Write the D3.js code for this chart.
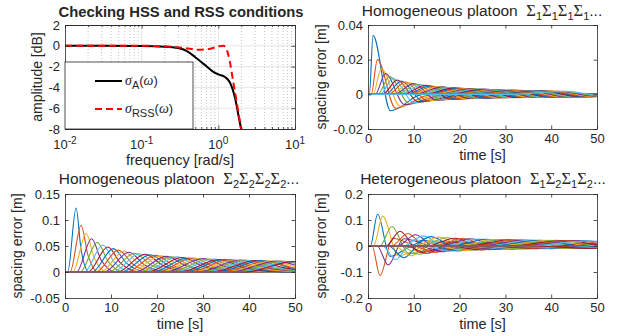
<!DOCTYPE html>
<html>
<head>
<meta charset="utf-8">
<script src="https://cdn.jsdelivr.net/npm/d3@7"></script>
<style>
  body { margin: 0; background: #fff; }
  text { font-family: "Liberation Sans", Arial, sans-serif; fill: #262626; }
</style>
</head>
<body>
<svg id="chart" width="620" height="336"></svg>
<script>
// ---- top-left: amplitude curves (frequency in rad/s, amplitude in dB)
const freqA = [0.01, 0.1, 0.2, 0.3, 0.4, 0.5, 0.67, 0.86, 1.0, 1.22, 1.41, 1.65, 1.82, 1.97, 2.2];
const ampA = [0, -0.02, -0.08, -0.22, -0.55, -1.1, -1.85, -2.5, -2.75, -3.0, -3.5, -5.0, -6.6, -7.9, -10];
const freqRSS = [0.01, 0.1, 0.2, 0.37, 0.55, 0.74, 1.0, 1.16, 1.26, 1.41, 1.56, 1.73, 1.97, 2.2];
const ampRSS = [0, 0, -0.05, -0.22, -0.38, -0.32, -0.06, 0, -0.22, -1.5, -3.4, -5.35, -7.9, -10];

// ---- top-right: homogeneous platoon S1 (key points of each vehicle's spacing error)
const h1Start = [0.3,0.7,1.1,1.6,2.1,2.6,3.2,3.8,4.4,5.0, 5.6,6.2,6.9,7.5,8.2,8.8,9.5,10.2,10.8,11.5,
  12.2,12.9,13.6,14.3,15.0,15.7,16.4,17.1,17.8,18.5, 19.2,19.9,20.6,21.3,22.0,22.7,23.4,24.1,24.8,25.5,
  26.2,26.9,27.6,28.3,29.0,29.7,30.4,31.1];
const h1PeakT = [1.1,2.05,2.9,3.8,4.7,5.5,6.4,7.3,8.2,9.1, 10.0,10.9,11.8,12.7,13.6,14.5,15.4,16.3,17.2,18.1,
  19.0,19.9,20.8,21.7,22.6,23.5,24.4,25.3,26.2,27.1, 28.0,28.9,29.8,30.7,31.6,32.5,33.4,34.3,35.2,36.1,
  37.0,37.9,38.8,39.7,40.6,41.5,42.4,43.3];
const h1PeakV = [0.034,0.020,0.0148,0.0120,0.0103,0.0092,0.0083,0.0076,0.0071,0.0066,
  0.0062,0.0058,0.0055,0.0052,0.0049,0.0047,0.0045,0.0043,0.0041,0.0039,
  0.0037,0.0036,0.0035,0.0034,0.0033,0.0032,0.0031,0.0030,0.0029,0.0028,
  0.0027,0.0026,0.0025,0.0025,0.0024,0.0023,0.0023,0.0022,0.0022,0.0021,
  0.0021,0.0020,0.0020,0.0019,0.0019,0.0018,0.0018,0.0018];
const h1TroughT = [4.9,6,7,8,9,10,11,12,13,14, 15,16,17,18,19,20,21,22,23,24,
  25,26,27,28,29,30,31,32,33,34, 35,36,37,38,39,40,41,42,43,44, 45,46,47,48,49,50,51,52];
const h1TroughV = [-0.0095,-0.0080,-0.0068,-0.0060,-0.0053,-0.0048,-0.0044,-0.0040,-0.0037,-0.0035,
  -0.0033,-0.0031,-0.0030,-0.0028,-0.0027,-0.0026,-0.0025,-0.0024,-0.0023,-0.0022,
  -0.0021,-0.0021,-0.0020,-0.0020,-0.0019,-0.0019,-0.0018,-0.0018,-0.0017,-0.0017,
  -0.0017,-0.0016,-0.0016,-0.0016,-0.0015,-0.0015,-0.0015,-0.0014,-0.0014,-0.0014,
  -0.0014,-0.0013,-0.0013,-0.0013,-0.0013,-0.0012,-0.0012,-0.0012];
const h1End = [12,14,15.5,17,18.5,20,21.5,23,24.5,26, 27.5,29,30.5,32,33.5,35,36.5,38,39.5,41,
  42.5,44,45.5,47,48.5,50,51.5,53,54.5,56, 57.5,59,60.5,62,63.5,65,66.5,68,69.5,71,
  72.5,74,75.5,77,78.5,80,81.5,83];

// ---- bottom-left: homogeneous platoon S2
const h2Start = [0.6,1.1,1.7,2.5,3.3,4.2,5.0,5.9,6.7,7.7, 8.5,9.5,10.4,11.4,12.3,13.3,14.2,15.2,16.1,17.1,
  18.0,19.0,20.0,21.0,21.9,23.0,23.9,25.0,25.9,27.0, 27.9,29.0,29.9,31.0,32.0,33.0,34.0,35.1,36.0,37.1,
  38.1,39.2];
const h2PeakT = [2.4,3.5,4.6,5.8,7.0,8.2,9.3,10.5,11.6,12.8, 13.9,15.1,16.2,17.4,18.5,19.7,20.8,22.0,23.1,24.3,
  25.4,26.6,27.7,28.9,30.0,31.2,32.3,33.5,34.6,35.8, 36.9,38.1,39.2,40.4,41.5,42.7,43.8,45.0,46.1,47.3,
  48.4,49.6];
const h2PeakV = [0.123,0.090,0.074,0.064,0.057,0.052,0.048,0.045,0.042,0.040,
  0.038,0.036,0.035,0.034,0.033,0.032,0.031,0.030,0.029,0.029,
  0.028,0.027,0.027,0.026,0.026,0.025,0.025,0.024,0.024,0.024,
  0.023,0.023,0.023,0.022,0.022,0.022,0.021,0.021,0.021,0.021, 0.020,0.020];
const h2TailT = [3.5,5.0,6.4,7.9,9.4,10.8,12.1,13.5,14.8,16.2, 17.4,18.8,20.0,21.4,22.6,23.9,25.2,26.5,27.7,29.0,
  30.2,31.6,32.8,34.1,35.3,36.6,37.8,39.1,40.3,41.6, 42.8,44.1,45.3,46.6,47.7,49.1,50.2,51.5,52.7,54.0,
  55.2,56.4];
const h2TailV = [0.043,0.032,0.026,0.022,0.020,0.018,0.017,0.016,0.015,0.014,
  0.013,0.013,0.012,0.012,0.012,0.011,0.011,0.011,0.010,0.010,
  0.010,0.009,0.009,0.009,0.009,0.009,0.009,0.008,0.008,0.008,
  0.008,0.008,0.008,0.008,0.008,0.008,0.007,0.007,0.007,0.007, 0.007,0.007];
const h2End = [5.2,7.3,9.2,11.1,12.9,14.7,16.3,18.0,19.5,21.2, 22.7,24.3,25.7,27.3,28.7,30.3,31.7,33.2,34.6,36.1,
  37.5,39.0,40.4,41.9,43.2,44.7,46.1,47.5,48.9,50.3, 51.6,53.1,54.4,55.8,57.1,58.6,59.9,61.3,62.6,64.0,
  65.3,66.7];

// ---- bottom-right: heterogeneous platoon S1 S2 S1 S2 ...
const htStart = [0.5,0.9,1.2,2.0,2.6,3.2,3.9,4.5,5.1,5.7, 6.4,7.0,7.7,8.3,9.0,9.6,10.3,10.9,11.6,12.2,
  12.9,13.5,14.2,14.8,15.5,16.1,16.8,17.4,18.1,18.7, 19.4,20.0,20.7,21.3,22.0,22.6,23.3,23.9,24.6,25.2,
  25.9,26.5,27.2,27.8,28.5,29.1,29.8,30.4,31.1,31.7, 32.4,33.0,33.7,34.3,35.0,35.6];
const htPeakT = [2.1,2.6,3.2,4.4,5.2,6.0,7.0,7.8,8.7,9.5, 10.4,11.2,12.1,12.9,13.8,14.6,15.5,16.3,17.2,18.0,
  18.9,19.7,20.6,21.4,22.3,23.1,24.0,24.8,25.7,26.5, 27.4,28.2,29.1,29.9,30.8,31.6,32.5,33.3,34.2,35.0,
  35.9,36.7,37.6,38.4,39.3,40.1,41.0,41.8,42.7,43.5, 44.4,45.2,46.1,46.9,47.8,48.6];
const htPeakV = [0.122,-0.113,0.115,-0.073,0.075,-0.052,0.057,-0.045,0.048,-0.038,
  0.043,-0.032,0.039,-0.028,0.036,-0.025,0.034,-0.022,0.032,-0.020,
  0.030,-0.019,0.029,-0.017,0.028,-0.016,0.027,-0.015,0.026,-0.014,
  0.025,-0.013,0.025,-0.012,0.024,-0.012,0.024,-0.011,0.023,-0.011,
  0.023,-0.010,0.022,-0.010,0.022,-0.010,0.022,-0.009,0.021,-0.009,
  0.021,-0.009,0.021,-0.009,0.020,-0.009];
const htSwingT = [4.8,5.4,6.6,7.8,8.9,10.0,11.2,12.2,13.3,14.2, 15.4,16.3,17.5,18.4,19.6,20.5,21.7,22.6,23.8,24.7,
  25.9,26.8,28.0,28.9,30.1,31.0,32.2,33.1,34.3,35.2, 36.4,37.3,38.5,39.4,40.6,41.5,42.7,43.6,44.8,45.7,
  46.9,47.8,49.0,49.9,51.1,52.0,53.2,54.1,55.3,56.2, 57.4,58.3,59.5,60.4,61.6,62.5];
const htSwingV = [-0.040,0.030,-0.038,0.028,-0.030,0.024,-0.024,0.021,-0.020,0.019,
  -0.017,0.017,-0.015,0.016,-0.013,0.015,-0.012,0.014,-0.011,0.013,
  -0.010,0.013,-0.010,0.012,-0.009,0.012,-0.009,0.011,-0.008,0.011,
  -0.008,0.011,-0.008,0.010,-0.007,0.010,-0.007,0.010,-0.007,0.010,
  -0.007,0.009,-0.006,0.009,-0.006,0.009,-0.006,0.009,-0.005,0.008,
  -0.005,0.008,-0.005,0.008,-0.005,0.008];
const htEnd = [10,11,13,14.5,16,17.5,19,20.5,22,23.5, 25,26.5,28,29.5,31,32.5,34,35.5,37,38.5,
  40,41.5,43,44.5,46,47.5,49,50.5,52,53.5, 55,56.5,58,59.5,61,62.5,64,65.5,67,68.5,
  70,71.5,73,74.5,76,77.5,79,80.5,82,83.5, 85,86.5,88,89.5,91,92.5];

// tick values
const freqTicks = [0.01, 0.1, 1, 10];
const ampTicks = [2, 0, -2, -4, -6, -8];
const timeTicks = [0, 10, 20, 30, 40, 50];
const h1Ticks = [0.04, 0.02, 0, -0.02];
const h2Ticks = [0.15, 0.1, 0.05, 0, -0.05];
const htTicks = [0.2, 0.1, 0, -0.1, -0.2];

const colorOrder = ['#0072BD', '#D95319', '#EDB120', '#7E2F8E', '#77AC30', '#4DBEEE', '#A2142F'];
const axisColor = '#262626';
const svg = d3.select('#chart');
svg.append('rect').attr('width', 620).attr('height', 336).attr('fill', '#fff');
const defs = svg.append('defs');

function clip(id, x, y) {
    defs.append('clipPath').attr('id', id).append('rect')
        .attr('x', x.range()[0]).attr('y', y.range()[1])
        .attr('width', x.range()[1] - x.range()[0])
        .attr('height', y.range()[0] - y.range()[1]);
}

function styleAxis(sel) {
    sel.attr('font-family', null).attr('font-size', 13).attr('color', axisColor);
    sel.select('.domain').attr('stroke-width', 0.8);
    sel.selectAll('.tick line').attr('stroke-width', 0.8);
}

function drawAxes(g, x, y, xVals, yVals, xFmt, yFmt) {
    const [xa, xb] = x.range();
    const [yb, ya] = y.range();
    g.append('g').attr('transform', `translate(0,${yb})`)
        .call(d3.axisBottom(x).tickValues(xVals).tickSize(-3.5).tickSizeOuter(0).tickPadding(5).tickFormat(xFmt))
        .call(styleAxis);
    g.append('g').attr('transform', `translate(0,${ya})`)
        .call(d3.axisTop(x).tickValues(xVals).tickSize(-3.5).tickSizeOuter(0).tickFormat(''))
        .call(styleAxis);
    g.append('g').attr('transform', `translate(${xa},0)`)
        .call(d3.axisLeft(y).tickValues(yVals).tickSize(-3.5).tickSizeOuter(0).tickPadding(5).tickFormat(yFmt))
        .call(styleAxis);
    g.append('g').attr('transform', `translate(${xb},0)`)
        .call(d3.axisRight(y).tickValues(yVals).tickSize(-3.5).tickSizeOuter(0).tickFormat(''))
        .call(styleAxis);
}

function labels(g, x, y, xLabel, yLabel, xLabelY, yLabelX) {
    const cx = (x.range()[0] + x.range()[1]) / 2;
    const cy = (y.range()[0] + y.range()[1]) / 2;
    g.append('text').attr('x', cx).attr('y', xLabelY).attr('text-anchor', 'middle')
        .attr('font-size', 14.5).text(xLabel);
    g.append('text').attr('transform', `translate(${yLabelX},${cy}) rotate(-90)`)
        .attr('text-anchor', 'middle').attr('font-size', 14).text(yLabel);
}

function platoonTitle(g, cx, ty, label, subs) {
    const t = g.append('text').attr('x', cx).attr('y', ty).attr('text-anchor', 'middle')
        .attr('font-size', 15.5).attr('fill', '#000');
    t.append('tspan').text(label + '\u00a0\u00a0');
    let shift = 0;
    subs.forEach(s => {
        t.append('tspan').attr('dy', -shift)
            .attr('font-family', '"Liberation Serif", "DejaVu Serif", serif').attr('font-size', 16.5).text('\u03a3');
        t.append('tspan').attr('dy', 4).attr('font-size', 11).text(s);
        shift = 4;
    });
    t.append('tspan').attr('dy', -shift).text('...');
}

function drawResponses(g, x, y, clipId, start, t1, v1, t2, v2, end) {
    const line = d3.line().x(d => x(d[0])).y(d => y(d[1])).curve(d3.curveMonotoneX);
    const rows = start.map((s, i) => {
        const pts = [[0, 0], [s, 0], [t1[i], v1[i]], [t2[i], v2[i]], [end[i], 0]];
        if (end[i] < 50) pts.push([50, 0]);
        return pts;
    });
    g.append('g').attr('clip-path', `url(#${clipId})`)
        .selectAll('path').data(rows).enter().append('path')
        .attr('d', line)
        .attr('fill', 'none')
        .attr('stroke', (d, i) => colorOrder[i % colorOrder.length])
        .attr('stroke-width', 1.1);
}

// ================= panel 1 =================
{
    const g = svg.append('g');
    const x = d3.scaleLog().domain([1e-2, 1e1]).range([65, 295]);
    const y = d3.scaleLinear().domain([-8, 2]).range([129, 25]);
    clip('clip1', x, y);

    const minor = [];
    [0.01, 0.1, 1].forEach(dec => d3.range(2, 10).forEach(m => minor.push(m * dec)));
    g.append('g').selectAll('line').data(minor).enter().append('line')
        .attr('x1', d => x(d)).attr('x2', d => x(d)).attr('y1', y(2)).attr('y2', y(-8))
        .attr('stroke', '#b8b8b8').attr('stroke-width', 0.8).attr('stroke-dasharray', '1,2');
    g.append('g').selectAll('line').data([0.1, 1]).enter().append('line')
        .attr('x1', d => x(d)).attr('x2', d => x(d)).attr('y1', y(2)).attr('y2', y(-8))
        .attr('stroke', '#dedede').attr('stroke-width', 0.8);
    g.append('g').selectAll('line').data([0, -2, -4, -6]).enter().append('line')
        .attr('x1', x(0.01)).attr('x2', x(10)).attr('y1', d => y(d)).attr('y2', d => y(d))
        .attr('stroke', '#dedede').attr('stroke-width', 0.8);

    const line = d3.line().x(d => x(d[0])).y(d => y(d[1])).curve(d3.curveMonotoneX);
    const curves = g.append('g').attr('clip-path', 'url(#clip1)');
    curves.append('path').attr('d', line(freqA.map((f, i) => [f, ampA[i]])))
        .attr('fill', 'none').attr('stroke', '#000').attr('stroke-width', 2);
    curves.append('path').attr('d', line(freqRSS.map((f, i) => [f, ampRSS[i]])))
        .attr('fill', 'none').attr('stroke', '#ff0000').attr('stroke-width', 2)
        .attr('stroke-dasharray', '7,4');

    drawAxes(g, x, y, freqTicks, ampTicks, () => '', d => d);
    // minor log ticks
    g.append('g').attr('transform', `translate(0,${y(-8)})`)
        .call(d3.axisBottom(x).tickValues(minor).tickSize(-2).tickSizeOuter(0).tickFormat(''))
        .call(styleAxis);
    g.append('g').attr('transform', `translate(0,${y(2)})`)
        .call(d3.axisTop(x).tickValues(minor).tickSize(-2).tickSizeOuter(0).tickFormat(''))
        .call(styleAxis);
    // 10^k labels
    const lab = g.append('g').attr('font-size', 13);
    freqTicks.forEach(f => {
        const t = lab.append('text').attr('x', x(f)).attr('y', 149).attr('text-anchor', 'middle');
        t.append('tspan').text('10');
        t.append('tspan').attr('dy', -5).attr('font-size', 10).text(Math.round(Math.log10(f)));
    });

    // legend
    const lg = g.append('g');
    lg.append('rect').attr('x', 65).attr('y', 62).attr('width', 128).attr('height', 67)
        .attr('fill', '#fff').attr('stroke', axisColor).attr('stroke-width', 0.8);
    lg.append('line').attr('x1', 95).attr('x2', 122).attr('y1', 81).attr('y2', 81)
        .attr('stroke', '#000').attr('stroke-width', 2);
    lg.append('line').attr('x1', 95).attr('x2', 122).attr('y1', 109).attr('y2', 109)
        .attr('stroke', '#ff0000').attr('stroke-width', 2).attr('stroke-dasharray', '7,4');
    [['A', 85], ['RSS', 113]].forEach(([sub, by]) => {
        const t = lg.append('text').attr('x', 125).attr('y', by).attr('font-size', 13);
        t.append('tspan').attr('font-family', '"Liberation Serif", serif').attr('font-style', 'italic')
            .attr('font-size', 14).text('\u03c3');
        t.append('tspan').attr('dy', 4).attr('font-size', 11).text(sub);
        t.append('tspan').attr('dy', -4).text('(');
        t.append('tspan').attr('font-family', '"Liberation Serif", serif').attr('font-style', 'italic')
            .attr('font-size', 14).text('\u03c9');
        t.append('tspan').text(')');
    });

    g.append('text').attr('x', 181).attr('y', 17).attr('text-anchor', 'middle')
        .attr('font-size', 14.8).attr('font-weight', 'bold').attr('fill', '#000')
        .text('Checking HSS and RSS conditions');
    labels(g, x, y, 'frequency [rad/s]', 'amplitude [dB]', 165, 42);
}

// ================= panel 2 =================
{
    const g = svg.append('g');
    const x = d3.scaleLinear().domain([0, 50]).range([368, 597]);
    const y = d3.scaleLinear().domain([-0.02, 0.04]).range([129, 25]);
    clip('clip2', x, y);
    drawResponses(g, x, y, 'clip2', h1Start, h1PeakT, h1PeakV, h1TroughT, h1TroughV, h1End);
    drawAxes(g, x, y, timeTicks, h1Ticks, d => d, d => d);
    platoonTitle(g, 482, 16, 'Homogeneous platoon', ['1', '1', '1', '1']);
    labels(g, x, y, 'time [s]', 'spacing error [m]', 159.5, 326);
}

// ================= panel 3 =================
{
    const g = svg.append('g');
    const x = d3.scaleLinear().domain([0, 50]).range([65, 295]);
    const y = d3.scaleLinear().domain([-0.05, 0.15]).range([298, 194]);
    clip('clip3', x, y);
    drawResponses(g, x, y, 'clip3', h2Start, h2PeakT, h2PeakV, h2TailT, h2TailV, h2End);
    drawAxes(g, x, y, timeTicks, h2Ticks, d => d, d => d);
    platoonTitle(g, 179, 184, 'Homogeneous platoon', ['2', '2', '2', '2']);
    labels(g, x, y, 'time [s]', 'spacing error [m]', 329, 22);
}

// ================= panel 4 =================
{
    const g = svg.append('g');
    const x = d3.scaleLinear().domain([0, 50]).range([368, 597]);
    const y = d3.scaleLinear().domain([-0.2, 0.2]).range([298, 194]);
    clip('clip4', x, y);
    drawResponses(g, x, y, 'clip4', htStart, htPeakT, htPeakV, htSwingT, htSwingV, htEnd);
    drawAxes(g, x, y, timeTicks, htTicks, d => d, d => d);
    platoonTitle(g, 483, 184, 'Heterogeneous platoon', ['1', '2', '1', '2']);
    labels(g, x, y, 'time [s]', 'spacing error [m]', 329, 326);
}
</script>
</body>
</html>
